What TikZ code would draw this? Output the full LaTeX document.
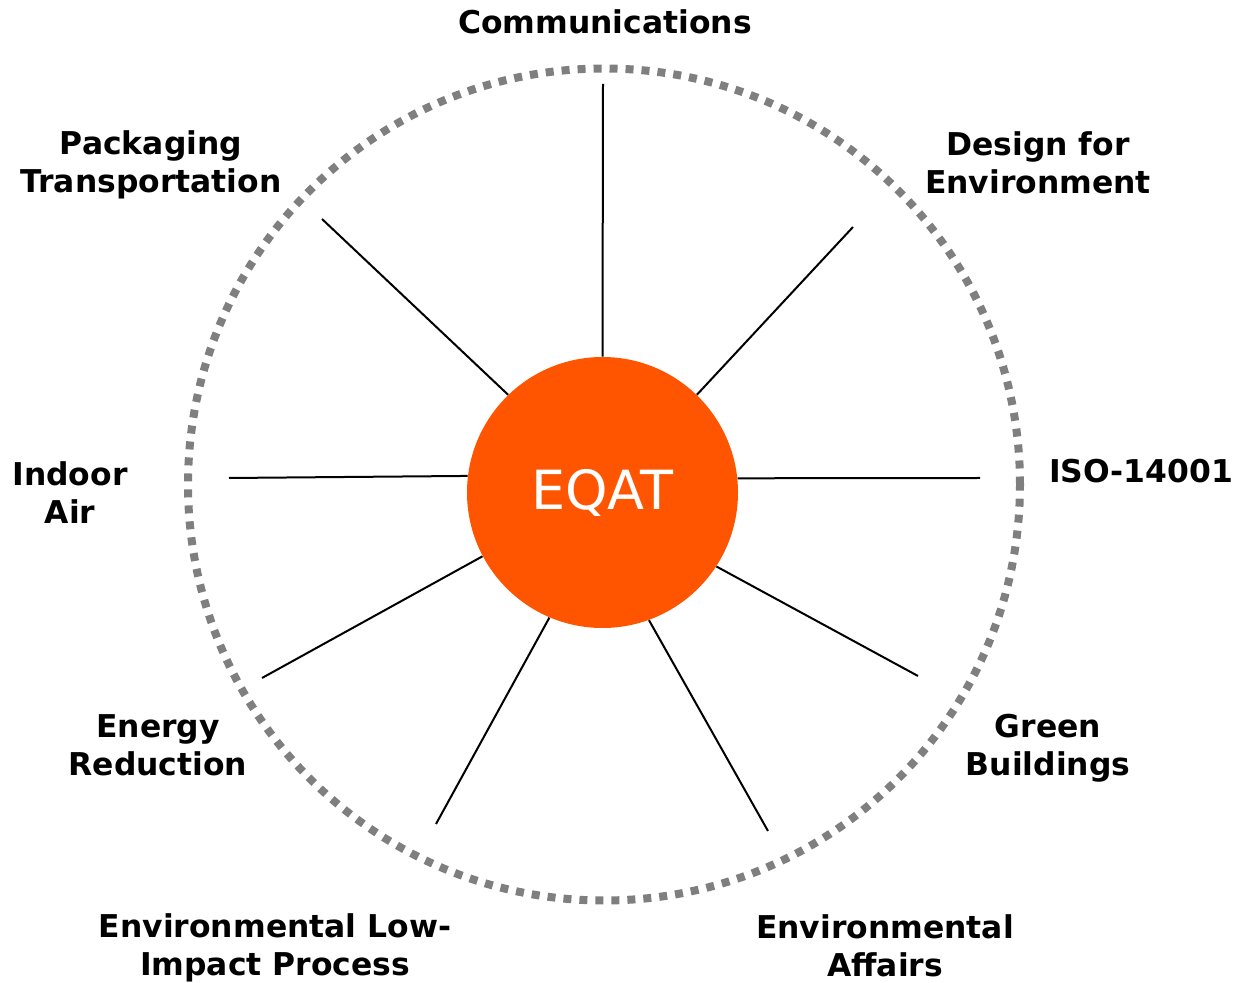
\documentclass[tikz,border=0pt]{standalone}
\usepackage{fontspec}
\setmainfont{DejaVu Sans}
\usepackage{tikz}

\definecolor{eqatorange}{HTML}{FF5500}
\definecolor{ringgray}{HTML}{7F7F7F}

\begin{document}
\begin{tikzpicture}[x=0.5pt,y=-0.5pt,inner sep=0pt,
  lbl/.style={align=center,font=\fontsize{15.7}{19}\selectfont\bfseries},
  spoke/.style={line width=1pt,black}]

\useasboundingbox (0,0) rectangle (1238,983);

% outer ring
\draw[ringgray,line width=4pt,dash pattern=on 4pt off 4pt] (604,484.5) circle[radius=208pt];

% hub
\node[circle,fill=eqatorange,minimum size=135.5pt,text=white,
  font=\fontsize{27}{30}\selectfont] (eqat) at (602.5,492.5) {EQAT};

% spoke ends
\coordinate (cN) at (603,84);
\coordinate (cNE) at (853,227);
\coordinate (cE) at (980,478);
\coordinate (cSE) at (918,676);
\coordinate (cS1) at (768,831);
\coordinate (cS2) at (436,824);
\coordinate (cSW) at (262,678);
\coordinate (cW) at (229,478);
\coordinate (cNW) at (322,219);

\draw[spoke] (eqat.90) -- (cN);
\draw[spoke] (eqat.46.2) -- (cNE);
\draw[spoke] (eqat.6.1) -- (cE);
\draw[spoke] (eqat.-33.9) -- (cSE);
\draw[spoke] (eqat.-70.9) -- (cS1);
\draw[spoke] (eqat.-113.6) -- (cS2);
\draw[spoke] (eqat.-152.6) -- (cSW);
\draw[spoke] (eqat.173.9) -- (cW);
\draw[spoke] (eqat.134.4) -- (cNW);

% labels
\node[lbl] (comm) at (605,22) {Communications};
\node[lbl] (dfe) at (1038,163) {Design for\\Environment};
\node[lbl] (iso) at (1141,471) {ISO-14001};
\node[lbl] (green) at (1048,748) {Green\\Buildings};
\node[lbl] (affairs) at (885,946) {Environmental\\Affairs};
\node[lbl] (lowimp) at (275,948) {Environmental Low-\\Impact Process};
\node[lbl] (energy) at (158,745) {Energy\\Reduction};
\node[lbl] (indoor) at (70,493) {Indoor\\Air};
\node[lbl] (pack) at (151,165) {Packaging\\Transportation};

\end{tikzpicture}
\end{document}
